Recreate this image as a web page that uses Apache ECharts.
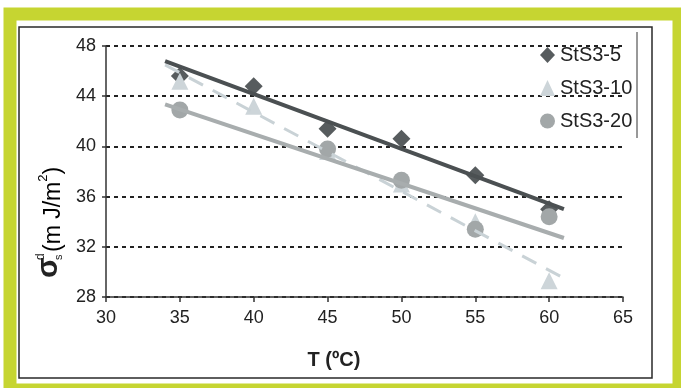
<!DOCTYPE html>
<html>
<head>
<meta charset="utf-8">
<script src="https://cdn.jsdelivr.net/npm/echarts@6/dist/echarts.min.js"></script>
<style>
  html, body { margin: 0; padding: 0; background: #fff; }
  #main { width: 681px; height: 388px; }
</style>
</head>
<body>
<div id="main"></div>
<script>
  // temperatures (x) and the three measured series
  var temps = [35, 40, 45, 50, 55, 60];
  var sts5  = [45.6, 44.8, 41.4, 40.6, 37.7, 35.0];
  var sts10 = [45.2, 43.2, 39.6, 37.0, 34.0, 29.3];
  var sts20 = [42.9, null, 39.8, 37.3, 33.4, 34.4];

  // trend line end points
  var trendX   = [34, 61];
  var trend5   = [46.8, 35.0];
  var trend10  = [46.5, 29.5];
  var trend20  = [43.35, 32.7];

  var seriesNames = ['StS3-5', 'StS3-10', 'StS3-20'];
  var xTicks = [30, 35, 40, 45, 50, 55, 60, 65];
  var yTicks = [28, 32, 36, 40, 44, 48];

  function pairs(xs, ys) {
    var out = [];
    for (var i = 0; i < xs.length; i++) {
      if (ys[i] != null) out.push([xs[i], ys[i]]);
    }
    return out;
  }

  var font = '"Liberation Sans", Arial, sans-serif';
  var chart = echarts.init(document.getElementById('main'));

  chart.setOption({
    backgroundColor: '#fff',
    animation: false,
    grid: { left: 106, right: 58, top: 46, bottom: 91 },
    legend: {
      orient: 'vertical',
      left: 535,
      top: 40,
      itemGap: 13,
      itemWidth: 15,
      itemHeight: 16,
      textStyle: { fontFamily: font, fontSize: 20, color: '#222' },
      data: [
        { name: 'StS3-5', icon: 'diamond' },
        { name: 'StS3-10', icon: 'triangle' },
        { name: 'StS3-20', icon: 'circle' }
      ]
    },
    xAxis: {
      type: 'value',
      min: xTicks[0],
      max: xTicks[xTicks.length - 1],
      interval: 5,
      axisLine: { lineStyle: { color: '#333', width: 1.5 } },
      axisTick: { show: true, length: 5, lineStyle: { color: '#333', width: 1.5 } },
      axisLabel: { fontFamily: font, fontSize: 18, color: '#222', margin: 12 },
      splitLine: { show: false }
    },
    yAxis: {
      type: 'value',
      min: yTicks[0],
      max: yTicks[yTicks.length - 1],
      interval: 4,
      axisLine: { show: true, lineStyle: { color: '#333', width: 1.5 } },
      axisTick: { show: true, length: 4, lineStyle: { color: '#333', width: 1.5 } },
      axisLabel: { fontFamily: font, fontSize: 18, color: '#222', margin: 10 },
      splitLine: { show: true, lineStyle: { color: '#222', width: 2, type: [4, 4] } }
    },
    series: [
      {
        name: seriesNames[0], type: 'scatter', symbol: 'diamond', symbolSize: 18,
        itemStyle: { color: '#575c5e', opacity: 1 },
        data: pairs(temps, sts5)
      },
      {
        name: seriesNames[1], type: 'scatter', symbol: 'triangle', symbolSize: 17,
        itemStyle: { color: '#cdd5d9', opacity: 1 },
        data: pairs(temps, sts10)
      },
      {
        name: seriesNames[2], type: 'scatter', symbol: 'circle', symbolSize: 17,
        itemStyle: { color: '#a2a7a8', opacity: 1 },
        data: pairs(temps, sts20)
      },
      {
        type: 'line', showSymbol: false, silent: true,
        lineStyle: { color: '#c9d2d6', width: 3, type: [16, 11] },
        data: pairs(trendX, trend10)
      },
      {
        type: 'line', showSymbol: false, silent: true,
        lineStyle: { color: '#a8adae', width: 4 },
        data: pairs(trendX, trend20)
      },
      {
        type: 'line', showSymbol: false, silent: true,
        lineStyle: { color: '#4b5052', width: 4 },
        data: pairs(trendX, trend5)
      }
    ],
    graphic: [
      // green outer band
      {
        type: 'rect', silent: true, z: -10,
        shape: { x: 10, y: 14, width: 669, height: 376 },
        style: { fill: null, stroke: '#c6d531', lineWidth: 13 }
      },
      // black frame
      {
        type: 'rect', silent: true,
        shape: { x: 19, y: 27, width: 633, height: 351 },
        style: { fill: null, stroke: '#2a2a2a', lineWidth: 1.5 }
      },
      // legend edge line
      {
        type: 'line', silent: true,
        shape: { x1: 637, y1: 32, x2: 637, y2: 138 },
        style: { stroke: '#333', lineWidth: 1 }
      },
      // x axis title
      {
        type: 'text', x: 334, y: 360,
        style: {
          text: 'T (ºC)', fill: '#222',
          font: 'bold 20px ' + font,
          textAlign: 'center', textVerticalAlign: 'middle'
        }
      },
      // y axis title, rotated
      {
        type: 'group', x: 64, y: 278, rotation: Math.PI / 2,
        children: [
          {
            type: 'text', x: 0, y: 0,
            style: { text: 'σ', fill: '#222', font: 'bold 30px ' + font,
              textAlign: 'left', textVerticalAlign: 'bottom' }
          },
          {
            type: 'text', x: 18, y: -17,
            style: { text: 'd', fill: '#222', font: '12px ' + font,
              textAlign: 'left', textVerticalAlign: 'bottom' }
          },
          {
            type: 'text', x: 18, y: 0,
            style: { text: 's', fill: '#222', font: '11px ' + font,
              textAlign: 'left', textVerticalAlign: 'bottom' }
          },
          {
            type: 'text', x: 26, y: 1,
            style: {
              text: '{t|(m J/m}{sp|2}{t|)}',
              textAlign: 'left', textVerticalAlign: 'bottom',
              rich: {
                t: { fontFamily: font, fontSize: 23, color: '#222', lineHeight: 28, verticalAlign: 'bottom' },
                sp: { fontFamily: font, fontSize: 13, color: '#222', lineHeight: 28, verticalAlign: 'top' }
              }
            }
          }
        ]
      }
    ]
  });
</script>
</body>
</html>
